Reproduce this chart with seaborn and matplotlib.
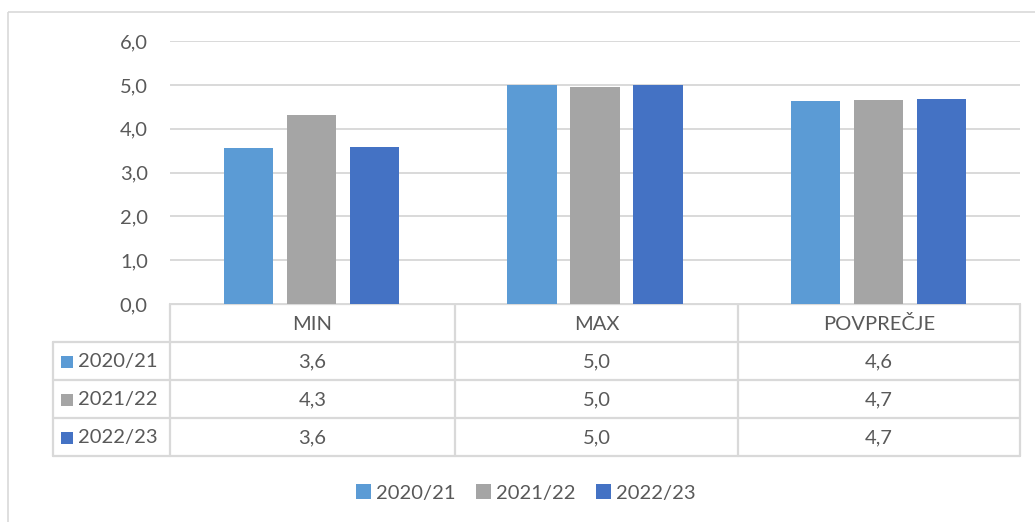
import numpy as np
import pandas as pd
import matplotlib
matplotlib.use("Agg")
import matplotlib.pyplot as plt
import seaborn as sns
from matplotlib.patches import Rectangle

categories = ["MIN", "MAX", "POVPREČJE"]
seasons = ["2020/21", "2021/22", "2022/23"]
values_2020_21 = [3.56, 5.00, 4.63]
values_2021_22 = [4.31, 4.96, 4.67]
values_2022_23 = [3.59, 5.00, 4.68]
y_ticks = [0, 1, 2, 3, 4, 5, 6]
colors = ["#5B9BD5", "#A5A5A5", "#4472C4"]

series = [values_2020_21, values_2021_22, values_2022_23]
df = pd.DataFrame({
    "category": [c for s in series for c in categories],
    "season": [seasons[i] for i, s in enumerate(series) for _ in categories],
    "value": [v for s in series for v in s],
})

sns.set_theme(style="white")
plt.rcParams['font.family'] = ['Lato', 'DejaVu Sans']
TXT = "#595959"
GRID = "#D9D9D9"
FS = 14.5

W, H = 1035, 522
fig = plt.figure(figsize=(W / 100, H / 100), dpi=100)
fig.patch.set_facecolor("white")

def fx(x):
    return x / W

def fy(y):
    return 1 - y / H

# main bar axes
ax = fig.add_axes([fx(170), fy(304), fx(1020) - fx(170), fy(41.3) - fy(304)])
sns.barplot(data=df, x="category", y="value", hue="season", order=categories,
            hue_order=seasons, palette=colors, saturation=1, width=0.667, gap=0.22,
            linewidth=0, errorbar=None, legend=False, ax=ax)
ax.set_ylim(0, 6)
ax.set_xlim(-0.5, 2.5)
ax.set_yticks(y_ticks)
ax.set_yticklabels([f"{t:.1f}".replace(".", ",") for t in y_ticks], color=TXT, fontsize=FS)
ax.set_xticks([])
ax.set_xlabel("")
ax.set_ylabel("")
ax.yaxis.grid(True, color=GRID, lw=1.4)
ax.set_axisbelow(True)
for sp in ax.spines.values():
    sp.set_visible(False)
ax.tick_params(axis="y", length=0, pad=16)

# table / frame overlay axes in pixel coords
tax = fig.add_axes([0, 0, 1, 1], zorder=-1)
tax.set_xlim(0, W)
tax.set_ylim(H, 0)
tax.axis("off")

tax.add_patch(Rectangle((8, 12), W + 20, H + 20, fill=False, edgecolor=GRID, lw=1.2, clip_on=False))

col_x = [170, 455, 738, 1020]
row_y = [304, 342, 380, 418, 456]
lkw = dict(color=GRID, lw=1.6)
# horizontal lines
tax.plot([170, 1020], [row_y[0], row_y[0]], **lkw)
for y in row_y[1:]:
    tax.plot([53, 1020], [y, y], **lkw)
# vertical lines
tax.plot([53, 53], [row_y[1], row_y[-1]], **lkw)
for x in col_x:
    tax.plot([x, x], [row_y[0], row_y[-1]], **lkw)

# header
for i, c in enumerate(categories):
    cx = (col_x[i] + col_x[i + 1]) / 2
    tax.text(cx, (row_y[0] + row_y[1]) / 2 + 1, c, ha="center", va="center", color=TXT, fontsize=FS)

# rows
for r, (s, vals) in enumerate(zip(seasons, series)):
    cy = (row_y[r + 1] + row_y[r + 2]) / 2 + 1
    tax.add_patch(Rectangle((61, cy - 6), 12, 12, color=colors[r], lw=0))
    tax.text(78, cy, s, ha="left", va="center", color=TXT, fontsize=FS)
    for i, v in enumerate(vals):
        cx = (col_x[i] + col_x[i + 1]) / 2
        tax.text(cx, cy, f"{v:.1f}".replace(".", ","), ha="center", va="center", color=TXT, fontsize=FS)

# legend
handles = [Rectangle((0, 0), 1, 1, color=c, lw=0) for c in colors]
fig.legend(handles, seasons, loc="center", bbox_to_anchor=(fx(526), fy(493)), ncol=3,
           frameon=False, handlelength=0.75, handleheight=0.75, handletextpad=0.25,
           columnspacing=1.0, fontsize=FS, labelcolor=TXT)

fig.savefig("out.png", dpi=100, facecolor="white")
